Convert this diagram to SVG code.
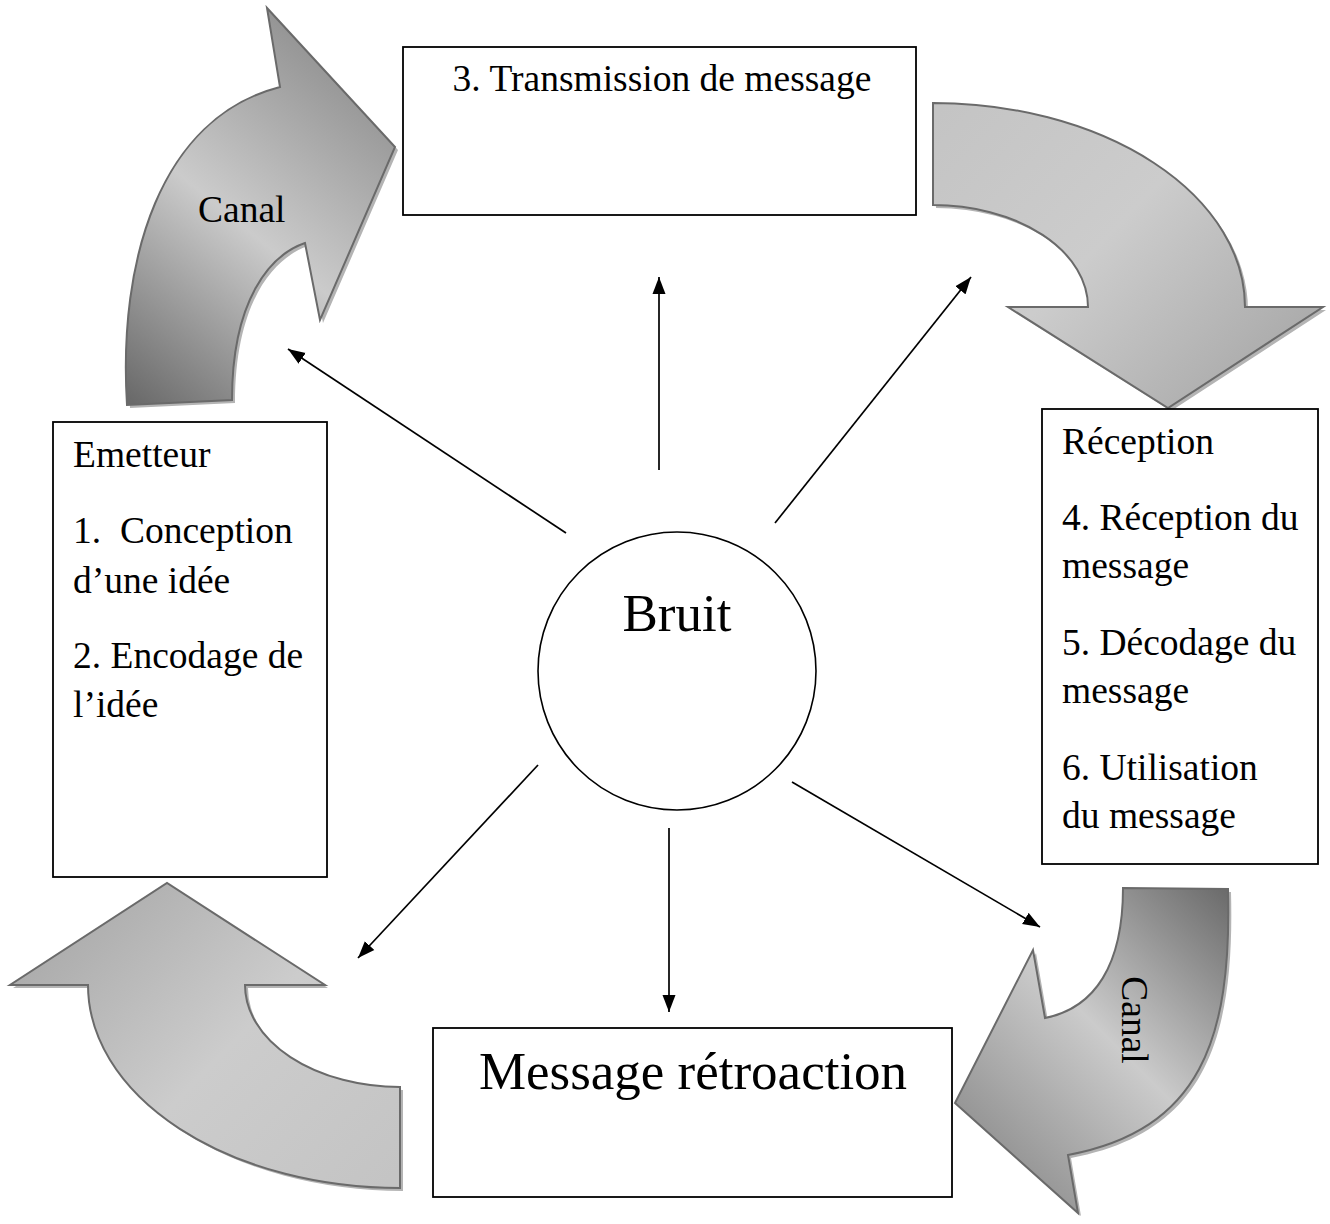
<svg xmlns="http://www.w3.org/2000/svg" width="1330" height="1224" viewBox="0 0 1330 1224">
<style>
.box{fill:#fff;stroke:#000;stroke-width:1.8}
.t{font-family:"Liberation Serif","Times New Roman",serif;font-size:37.5px;fill:#000}
.big{font-family:"Liberation Serif","Times New Roman",serif;font-size:53px;fill:#000}
.conn{stroke:#000;stroke-width:1.7;fill:none;marker-end:url(#ah)}
.curv{stroke:#6a6a6a;stroke-width:2;stroke-linejoin:miter}
.shadow{fill:#b4b4b4;stroke:none}
</style>
<defs>
<marker id="ah" markerUnits="userSpaceOnUse" markerWidth="18" markerHeight="14" refX="17" refY="7" orient="auto">
<path d="M0,0.5 L17,7 L0,13.5 Z" fill="#000"/>
</marker>
<linearGradient id="gTL" gradientUnits="userSpaceOnUse" x1="130" y1="400" x2="390" y2="80">
<stop offset="0" stop-color="#6a6a6a"/>
<stop offset="0.5" stop-color="#cbcbcb"/>
<stop offset="1" stop-color="#8e8e8e"/>
</linearGradient>
<linearGradient id="gTR" gradientUnits="userSpaceOnUse" x1="940" y1="110" x2="1240" y2="400">
<stop offset="0" stop-color="#c4c4c4"/>
<stop offset="0.5" stop-color="#cccccc"/>
<stop offset="1" stop-color="#ababab"/>
</linearGradient>
<linearGradient id="gBR" gradientUnits="userSpaceOnUse" x1="1230" y1="890" x2="960" y2="1160">
<stop offset="0" stop-color="#6a6a6a"/>
<stop offset="0.5" stop-color="#cbcbcb"/>
<stop offset="1" stop-color="#8a8a8a"/>
</linearGradient>
<linearGradient id="gBL" gradientUnits="userSpaceOnUse" x1="390" y1="1180" x2="90" y2="890">
<stop offset="0" stop-color="#c4c4c4"/>
<stop offset="0.5" stop-color="#cccccc"/>
<stop offset="1" stop-color="#ababab"/>
</linearGradient>
</defs>

<g id="canal-arrow-top-left">
<path class="shadow" transform="translate(3,3)" d="M127,405 C118,260 160,118 280,87 L267,8 L395,147 L320,320 L305,243 C270,255 232,300 232,400 Z"/>
<path class="curv" fill="url(#gTL)" d="M127,405 C118,260 160,118 280,87 L267,8 L395,147 L320,320 L305,243 C270,255 232,300 232,400 Z"/>
<text class="t" x="198" y="222">Canal</text>
</g>

<g id="arrow-top-right">
<path class="shadow" transform="translate(3,3)" d="M933,103 A312,204 0 0 1 1245,307 L1323,307 L1168,408 L1008,307 L1088,307 A155,102 0 0 0 933,205 Z"/>
<path class="curv" fill="url(#gTR)" d="M933,103 A312,204 0 0 1 1245,307 L1323,307 L1168,408 L1008,307 L1088,307 A155,102 0 0 0 933,205 Z"/>
</g>

<g id="canal-arrow-bottom-right">
<path class="shadow" transform="translate(3,3)" d="M1123,888 L1228,889 C1232,1040 1200,1130 1068,1155 L1078,1213 L955,1103 L1033,950 L1045,1018 C1095,1008 1123,965 1123,888 Z"/>
<path class="curv" fill="url(#gBR)" d="M1123,888 L1228,889 C1232,1040 1200,1130 1068,1155 L1078,1213 L955,1103 L1033,950 L1045,1018 C1095,1008 1123,965 1123,888 Z"/>
<text class="t" text-anchor="middle" transform="translate(1122,1020) rotate(90)">Canal</text>
</g>

<g id="arrow-bottom-left">
<path class="shadow" transform="translate(3,3)" d="M400,1188 A312,203 0 0 1 88,985 L10,985 L167,883 L325,985 L245,985 A155,102 0 0 0 400,1087 Z"/>
<path class="curv" fill="url(#gBL)" d="M400,1188 A312,203 0 0 1 88,985 L10,985 L167,883 L325,985 L245,985 A155,102 0 0 0 400,1087 Z"/>
</g>

<g id="transmission">
<rect class="box" x="403" y="47" width="513" height="168"/>
<text class="t" x="662" y="91" text-anchor="middle">3. Transmission de message</text>
</g>

<g id="emetteur">
<rect class="box" x="53" y="422" width="274" height="455"/>
<text class="t" x="73" y="467">Emetteur</text>
<text class="t" x="73" y="543" xml:space="preserve">1.  Conception</text>
<text class="t" x="73" y="593">d’une idée</text>
<text class="t" x="73" y="668">2. Encodage de</text>
<text class="t" x="73" y="717">l’idée</text>
</g>

<g id="reception">
<rect class="box" x="1042" y="409" width="276" height="455"/>
<text class="t" x="1062" y="454">Réception</text>
<text class="t" x="1062" y="530">4. Réception du</text>
<text class="t" x="1062" y="578">message</text>
<text class="t" x="1062" y="655">5. Décodage du</text>
<text class="t" x="1062" y="703">message</text>
<text class="t" x="1062" y="780">6. Utilisation</text>
<text class="t" x="1062" y="828">du message</text>
</g>

<g id="retroaction">
<rect class="box" x="433" y="1028" width="519" height="169"/>
<text class="big" x="693" y="1089" text-anchor="middle">Message rétroaction</text>
</g>

<g id="bruit">
<circle cx="677" cy="671" r="139" fill="#fff" stroke="#000" stroke-width="1.6"/>
<text class="big" x="677" y="631" text-anchor="middle">Bruit</text>
</g>

<g id="connectors">
<line class="conn" x1="566" y1="533" x2="288" y2="349"/>
<line class="conn" x1="659" y1="470" x2="659" y2="277"/>
<line class="conn" x1="775" y1="523" x2="971" y2="277"/>
<line class="conn" x1="538" y1="765" x2="358" y2="958"/>
<line class="conn" x1="669" y1="828" x2="669" y2="1012"/>
<line class="conn" x1="792" y1="782" x2="1040" y2="927"/>
</g>
</svg>
